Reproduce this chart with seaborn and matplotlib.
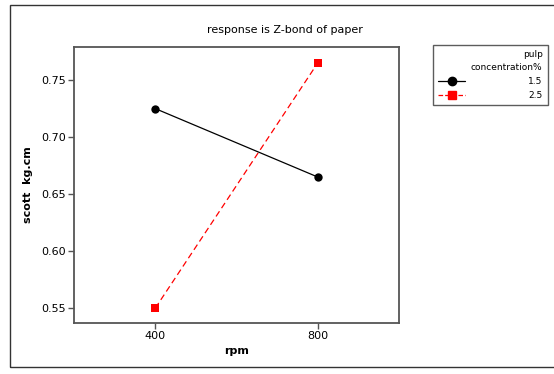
import matplotlib
matplotlib.use("Agg")
import matplotlib.pyplot as plt
import seaborn as sns
import pandas as pd
from matplotlib.lines import Line2D
from matplotlib.patches import Rectangle

rpm = [400, 800]
conc_levels = ["1.5", "2.5"]
scott_15 = [0.725, 0.665]
scott_25 = [0.55, 0.765]
yticks = [0.55, 0.60, 0.65, 0.70, 0.75]
xticks = [400, 800]

df = pd.DataFrame({
    "rpm": rpm + rpm,
    "scott": scott_15 + scott_25,
    "conc": [conc_levels[0]] * 2 + [conc_levels[1]] * 2,
})

sns.set_style("white")
plt.rcParams["font.family"] = ["DejaVu Sans"]
plt.rcParams["text.color"] = "black"
plt.rcParams["axes.labelcolor"] = "black"
plt.rcParams["xtick.color"] = "black"
plt.rcParams["ytick.color"] = "black"

fig = plt.figure(figsize=(5.54, 3.74), dpi=100)
ax = fig.add_axes([74/554, 1-323/374, (399-74)/554, (323-47)/374])

palette = {"1.5": "black", "2.5": "red"}
sns.lineplot(data=df, x="rpm", y="scott", hue="conc", style="conc",
             markers={"1.5": "o", "2.5": "s"},
             dashes={"1.5": "", "2.5": (5, 3)},
             palette=palette, ax=ax, legend=False,
             linewidth=0.9, markersize=6, markeredgewidth=0)

ax.set_xlim(200, 1000)
ax.set_ylim(0.537, 0.779)
ax.set_xticks(xticks)
ax.set_xticklabels([str(v) for v in xticks])
ax.set_yticks(yticks)
ax.set_yticklabels([f"{v:.2f}" for v in yticks])
ax.tick_params(axis="both", direction="out", length=4, width=1,
               labelsize=8, left=True, bottom=True, pad=2)
ax.tick_params(axis="both", which="major", color="#555555", labelcolor="black")
for s in ax.spines.values():
    s.set_color("#555555")
    s.set_linewidth(1.3)
ax.set_xlabel("rpm", fontsize=8, fontweight="bold", labelpad=3)
ax.set_ylabel("scott  kg.cm", fontsize=8, fontweight="bold", labelpad=6)

fig.text(285/554, 1-30/374, "response is Z-bond of paper", ha="center", va="center", fontsize=8)

# outer frame
fig.patches.append(Rectangle((10/554, 1-367/374), 560/554, (367-5)/374,
                             transform=fig.transFigure, fill=False,
                             edgecolor="#333333", linewidth=1.0))

handles = [
    Line2D([], [], color="black", marker="o", linestyle="-", markersize=6, linewidth=0.9),
    Line2D([], [], color="red", marker="s", linestyle="--", markersize=6, linewidth=0.9),
]
leg = ax.legend(handles, conc_levels, title="pulp\nconcentration%",
                loc="upper left", bbox_to_anchor=(433/554, 1-45/374),
                bbox_transform=fig.transFigure, fontsize=6.5, title_fontsize=6.5,
                alignment="right", frameon=True, fancybox=False,
                handlelength=3.0, handletextpad=7.0, labelspacing=0.55,
                borderpad=0.55, borderaxespad=0)
leg.get_title().set_multialignment("right")
leg.get_title().set_linespacing(1.6)
leg.get_frame().set_edgecolor("#333333")
leg.get_frame().set_linewidth(1.0)

fig.savefig("out.png", dpi=100)
